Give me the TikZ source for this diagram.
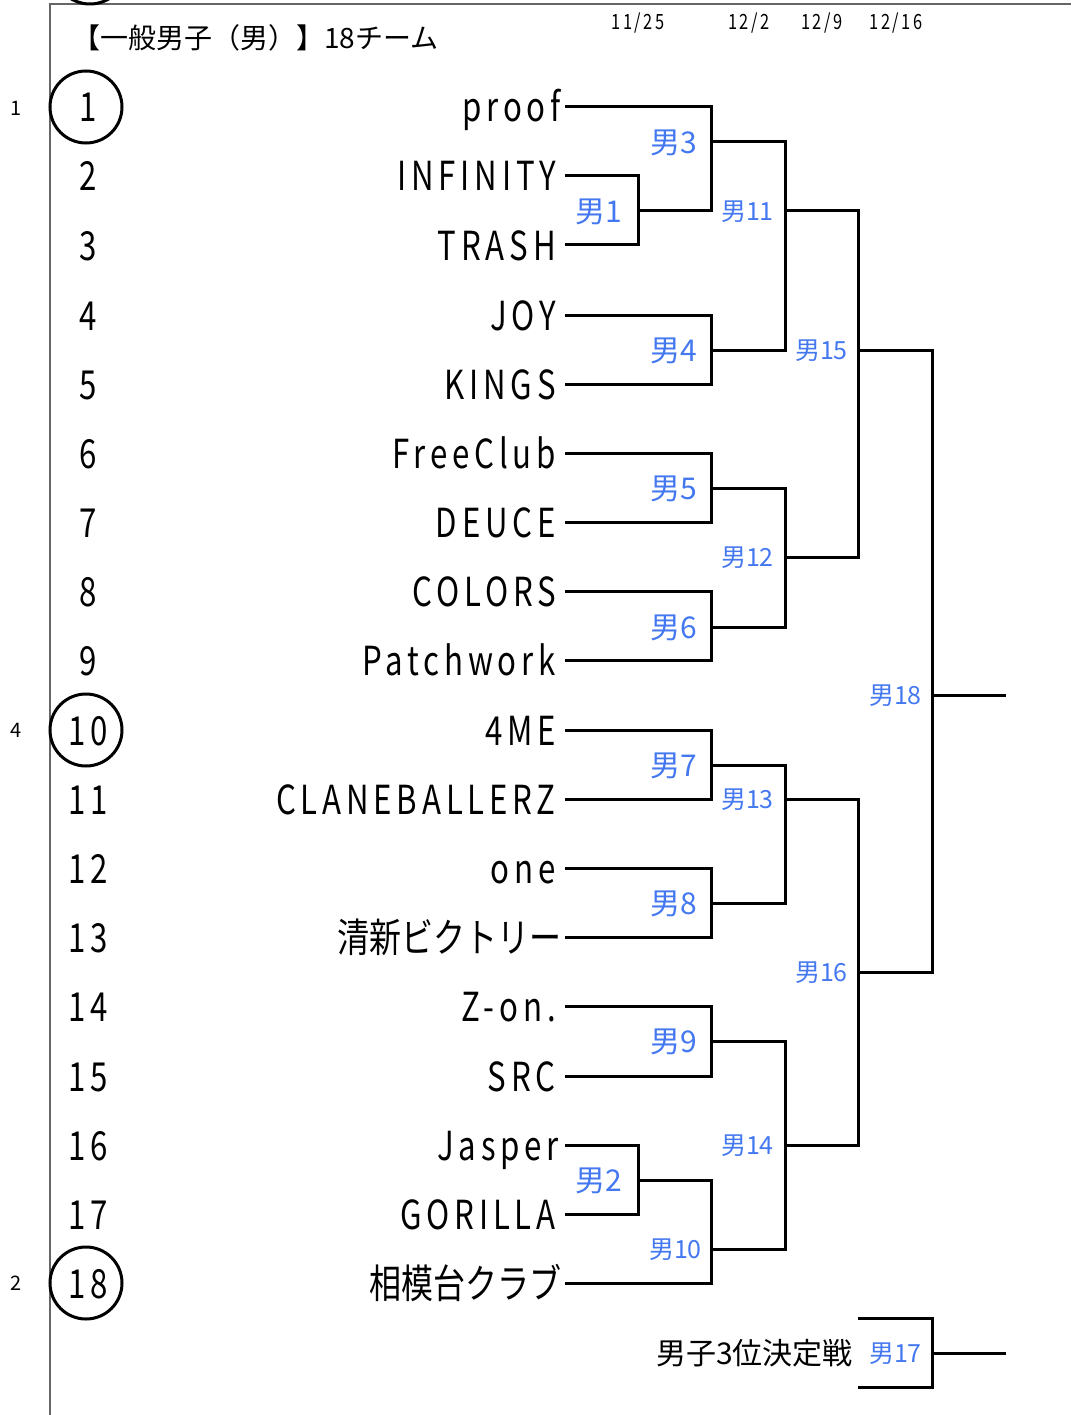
\documentclass[tikz,border=0pt]{standalone}
\usepackage{fontspec}
\usetikzlibrary{positioning}
\setmainfont{Noto Sans CJK JP}
\newfontfamily\teamfont[FakeStretch=0.78,LetterSpace=12]{Noto Sans CJK JP}
\newfontfamily\teamjpfont[FakeStretch=0.8]{Noto Sans CJK JP}
\definecolor{matchblue}{RGB}{68,120,240}
\tikzset{
  team/.style={anchor=east,inner xsep=9pt,inner ysep=0pt,text height=30pt,text depth=0pt,font=\teamfont\fontsize{40}{40}\selectfont},
  teamjp/.style={team,inner xsep=3pt,font=\teamjpfont\fontsize{40}{40}\selectfont},
  seed/.style={inner sep=0pt,text height=30pt,text depth=0pt,font=\teamfont\fontsize{40}{40}\selectfont},
  seedring/.style={draw,circle,line width=3pt,minimum size=72pt,inner sep=0pt},
  rank/.style={inner sep=0pt,text height=15pt,text depth=0pt,font=\fontsize{20}{20}\selectfont},
  day/.style={inner sep=0pt,text height=15pt,text depth=0pt,font=\teamfont\fontsize{21}{21}\selectfont},
  match/.style={anchor=east,inner sep=0pt,text height=22.5pt,text depth=0pt,text=matchblue,font=\fontsize{30}{30}\selectfont},
  matchs/.style={match,text height=19pt,font=\fontsize{25}{25}\selectfont},
  bracket/.style={line width=3pt}
}
\begin{document}
\begin{tikzpicture}[x=1pt,y=-1pt]
\useasboundingbox (0,0) rectangle (1071,1415);
\draw[line width=1.6pt,black!60] (50,1415) -- (50,4) -- (1071,4);
\draw[line width=3pt] (90,-33) circle (37pt);

\node (title) [anchor=west,inner sep=0pt,text height=21pt,text depth=0pt,font=\fontsize{28}{28}\selectfont] at (72,38) {【一般男子（男）】18チーム};
\node (d1) [day] at (638,22) {11/25};
\node (d2) [day] at (749,22) {12/2};
\node (d3) [day] at (822,22) {12/9};
\node (d4) [day] at (896,22) {12/16};

\node (r1) [seed] at (88,107) {1};
\node (r2) [seed] at (88,176) {2};
\node (r3) [seed] at (88,245) {3};
\node (r4) [seed] at (88,315) {4};
\node (r5) [seed] at (88,384) {5};
\node (r6) [seed] at (88,453) {6};
\node (r7) [seed] at (88,522) {7};
\node (r8) [seed] at (88,591) {8};
\node (r9) [seed] at (88,660) {9};
\node (r10) [seed] at (88,730) {10};
\node (r11) [seed] at (88,799) {11};
\node (r12) [seed] at (88,868) {12};
\node (r13) [seed] at (88,937) {13};
\node (r14) [seed] at (88,1006) {14};
\node (r15) [seed] at (88,1076) {15};
\node (r16) [seed] at (88,1145) {16};
\node (r17) [seed] at (88,1214) {17};
\node (r18) [seed] at (88,1283) {18};
\node (c1) [seedring] at (86,107) {};
\node (c10) [seedring] at (86,730) {};
\node (c18) [seedring] at (86,1283) {};
\node (s1) [rank] at (16,108) {1};
\node (s4) [rank] at (16,730) {4};
\node (s2) [rank] at (16,1283) {2};

\node (n1) [team,inner xsep=4pt] at (565,107) {proof};
\node (n2) [team] at (565,176) {INFINITY};
\node (n3) [team] at (565,245) {TRASH};
\node (n4) [team] at (565,315) {JOY};
\node (n5) [team] at (565,384) {KINGS};
\node (n6) [team] at (565,453) {FreeClub};
\node (n7) [team] at (565,522) {DEUCE};
\node (n8) [team] at (565,591) {COLORS};
\node (n9) [team] at (565,660) {Patchwork};
\node (n10) [team] at (565,730) {4ME};
\node (n11) [team] at (565,799) {CLANEBALLERZ};
\node (n12) [team] at (565,868) {one};
\node (n13) [teamjp] at (565,937) {清新ビクトリー};
\node (n14) [team] at (565,1006) {Z-on.};
\node (n15) [team] at (565,1076) {SRC};
\node (n16) [team,inner xsep=6pt] at (565,1145) {Jasper};
\node (n17) [team] at (565,1214) {GORILLA};
\node (n18) [teamjp] at (565,1283) {相模台クラブ};

\coordinate (m1) at (638,211);
\coordinate (m2) at (638,1180);
\coordinate (m3) at (711,142);
\coordinate (m4) at (711,350);
\coordinate (m5) at (711,488);
\coordinate (m6) at (711,627);
\coordinate (m7) at (711,765);
\coordinate (m8) at (711,903);
\coordinate (m9) at (711,1041);
\coordinate (m10) at (711,1249);
\coordinate (m11) at (785,211);
\coordinate (m12) at (785,557);
\coordinate (m13) at (785,799);
\coordinate (m14) at (785,1145);
\coordinate (m15) at (858,350);
\coordinate (m16) at (858,972);
\coordinate (m17) at (932,1353);
\coordinate (m18) at (932,695);
\coordinate (a17) at (858,1318);
\coordinate (b17) at (858,1387);
\coordinate (w17) at (1006,1353);
\coordinate (w18) at (1006,695);

\draw[bracket] (n2.east) -| (m1) |- (n3.east);
\draw[bracket] (n1.east) -| (m3) |- (m1);
\draw[bracket] (n4.east) -| (m4) |- (n5.east);
\draw[bracket] (m3) -| (m11) |- (m4);
\draw[bracket] (n6.east) -| (m5) |- (n7.east);
\draw[bracket] (n8.east) -| (m6) |- (n9.east);
\draw[bracket] (m5) -| (m12) |- (m6);
\draw[bracket] (m11) -| (m15) |- (m12);
\draw[bracket] (n10.east) -| (m7) |- (n11.east);
\draw[bracket] (n12.east) -| (m8) |- (n13.east);
\draw[bracket] (m7) -| (m13) |- (m8);
\draw[bracket] (n14.east) -| (m9) |- (n15.east);
\draw[bracket] (n16.east) -| (m2) |- (n17.east);
\draw[bracket] (m2) -| (m10) |- (n18.east);
\draw[bracket] (m9) -| (m14) |- (m10);
\draw[bracket] (m13) -| (m16) |- (m14);
\draw[bracket] (m15) -| (m18) |- (m16);
\draw[bracket] (m18) -- (w18);
\draw[bracket] (a17) -| (m17) |- (b17);
\draw[bracket] (m17) -- (w17);

\node (l1) [match,left=16pt of m1] {男1};
\node (l2) [match,left=16pt of m2] {男2};
\node (l3) [match,left=14pt of m3] {男3};
\node (l4) [match,left=14pt of m4] {男4};
\node (l5) [match,left=14pt of m5] {男5};
\node (l6) [match,left=14pt of m6] {男6};
\node (l7) [match,left=14pt of m7] {男7};
\node (l8) [match,left=14pt of m8] {男8};
\node (l9) [match,left=14pt of m9] {男9};
\node (l10) [matchs,left=9pt of m10] {男10};
\node (l11) [matchs,left=11pt of m11] {男11};
\node (l12) [matchs,left=11pt of m12] {男12};
\node (l13) [matchs,left=11pt of m13] {男13};
\node (l14) [matchs,left=11pt of m14] {男14};
\node (l15) [matchs,left=10pt of m15] {男15};
\node (l16) [matchs,left=10pt of m16] {男16};
\node (l17) [matchs,left=10pt of m17] {男17};
\node (l18) [matchs,left=10pt of m18] {男18};
\node (third) [anchor=east,inner sep=0pt,text height=22.5pt,text depth=0pt,font=\fontsize{30}{30}\selectfont,left=16pt of l17] {男子3位決定戦};
\end{tikzpicture}
\end{document}
